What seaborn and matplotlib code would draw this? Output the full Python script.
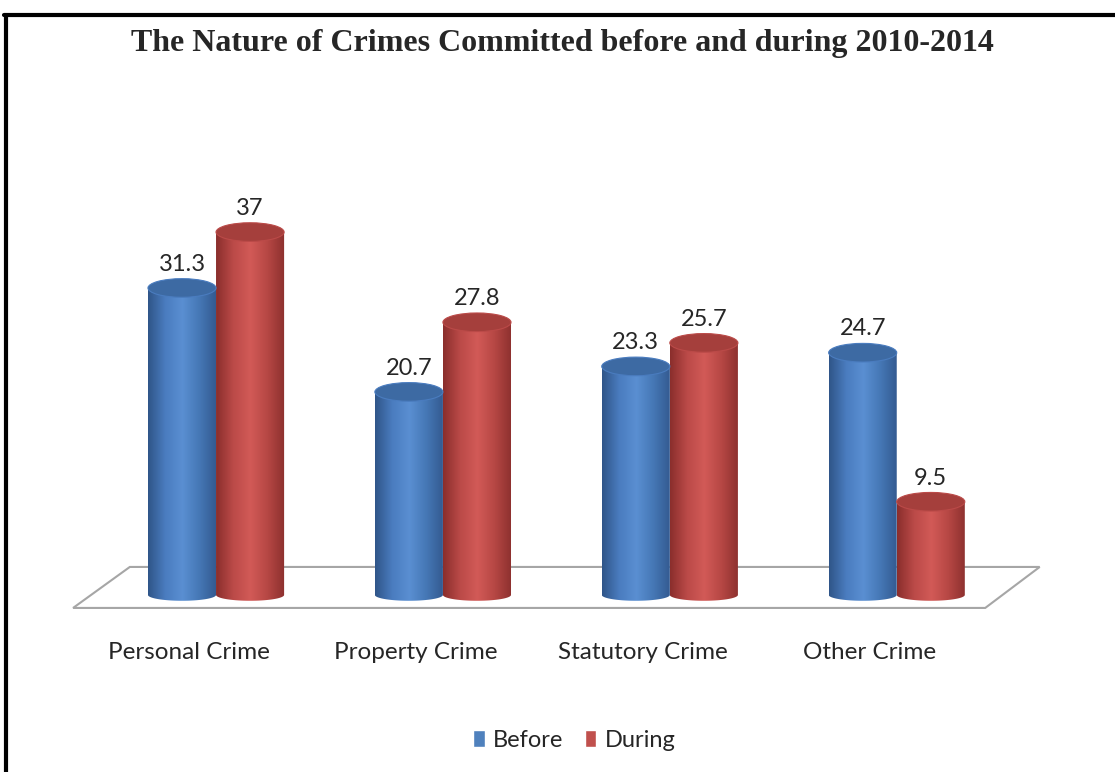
import numpy as np
import pandas as pd
import matplotlib
matplotlib.use("Agg")
import matplotlib.pyplot as plt
import seaborn as sns
from matplotlib.colors import LinearSegmentedColormap
from matplotlib.patches import Ellipse, PathPatch, Polygon
from matplotlib.path import Path
from matplotlib.lines import Line2D
from matplotlib.transforms import ScaledTranslation

categories = ["Personal Crime", "Property Crime", "Statutory Crime", "Other Crime"]
series = ["Before", "During"]
before = [31.3, 20.7, 23.3, 24.7]
during = [37, 27.8, 25.7, 9.5]
title = "The Nature of Crimes Committed before and during 2010-2014"

df = pd.DataFrame({
    "Crime": categories * 2,
    "Value": before + during,
    "Period": [series[0]] * len(before) + [series[1]] * len(during),
})

colors = {"Before": "#4F81BD", "During": "#C0504D"}
shades = {
    "Before": ["#2f5588", "#4a7cbf", "#5a8fd2", "#4577b5", "#33598f"],
    "During": ["#8a2e2c", "#bb4a48", "#d25a57", "#b64744", "#8c302e"],
}
caps = {"Before": "#3d6aa3", "During": "#a53f3c"}

sns.set_style("white")
plt.rcParams["font.family"] = ["Lato", "DejaVu Sans"]

fig = plt.figure(figsize=(11.15, 7.72), dpi=100)
ax = fig.add_axes([0.092, 0.204, 0.814, 0.597])

sns.barplot(data=df, x="Crime", y="Value", hue="Period", palette=colors,
            width=0.6, saturation=1, ax=ax)

# floor of the 3d chart
n = len(categories)
floor = Polygon([(-0.38, 2.85), (n - 0.37, 2.85), (n - 0.61, -1.33), (-0.63, -1.33)],
                closed=True, facecolor="white", edgecolor="#a6a6a6", lw=1.5,
                clip_on=False, zorder=1)
ax.add_patch(floor)

# turn flat bars into cylinders
ry_bot, ry_top = 0.6, 0.95
grad = np.linspace(0, 1, 256)[np.newaxis, :]
for name, cont in zip(series, ax.containers):
    cmap = LinearSegmentedColormap.from_list(name, shades[name])
    for rect in cont:
        x0, w, h = rect.get_x(), rect.get_width(), rect.get_height()
        x1, cx = x0 + w, x0 + w / 2
        rect.set_visible(False)
        t = np.linspace(np.pi, 2 * np.pi, 60)
        verts = [(x0, h)] + list(zip(cx + w / 2 * np.cos(t), ry_bot * np.sin(t))) + [(x1, h), (x0, h)]
        body = PathPatch(Path(verts, closed=True), facecolor="none", edgecolor="none")
        ax.add_patch(body)
        im = ax.imshow(grad, cmap=cmap, extent=(x0, x1, -ry_bot, h), aspect="auto", zorder=2)
        im.set_clip_path(body)
        ax.add_patch(Ellipse((cx, h), w, 2 * ry_top, facecolor=caps[name],
                             edgecolor=shades[name][1], lw=0.8, zorder=3, clip_on=False))
        ax.text(cx, h + ry_top + 0.4, f"{h:g}", ha="center", va="bottom", fontsize=17, zorder=4)

ax.set_xlim(-0.5, n - 0.5)
ax.set_ylim(-2, 45)
ax.set_xlabel("")
ax.set_ylabel("")
ax.set_yticks([])
ax.tick_params(axis="x", length=0, pad=20, labelsize=17.5)
# labels sit in front of the floor, a bit to the left of the bars
shift = ScaledTranslation(-0.27, 0, fig.dpi_scale_trans)
for lab in ax.get_xticklabels():
    lab.set_transform(lab.get_transform() + shift)
sns.despine(ax=ax, left=True, bottom=True)

fig.text(0.504, 0.944, title, ha="center", va="center", family="Liberation Serif",
         weight="bold", fontsize=23)

sns.move_legend(ax, "center", bbox_to_anchor=(0.515, 0.041), bbox_transform=fig.transFigure,
                ncol=2, frameon=False, title=None, fontsize=17, handlelength=0.5,
                handleheight=0.75, handletextpad=0.35, columnspacing=0.9)

# chart frame (top and left edges visible)
fig.add_artist(Line2D([0.004, 1.0], [0.981, 0.981], color="black", lw=3, transform=fig.transFigure))
fig.add_artist(Line2D([0.0054, 0.0054], [0.0, 0.981], color="black", lw=3, transform=fig.transFigure))

fig.savefig("out.png", dpi=100)
